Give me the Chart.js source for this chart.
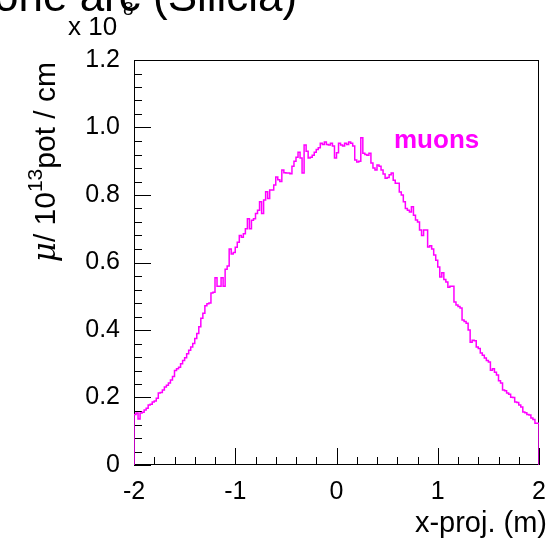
<!DOCTYPE html>
<html><head><meta charset="utf-8">
<script src="https://cdn.jsdelivr.net/npm/chart.js@4.4.0/dist/chart.umd.min.js"></script>
<style>html,body{margin:0;padding:0;background:#fff;overflow:hidden}#wrap{width:559px;height:542px;position:relative}</style>
</head><body><div id="wrap"><canvas id="c" width="559" height="542"></canvas></div>
<script>
// histogram range (m) and bin contents (units of 1e8 muons / 1e13 pot / cm)
const xMin = -2, xMax = 2;
const muonCounts = [
0.127,0.15,0.154,0.136,0.154,0.156,0.163,0.168,0.178,0.18,
0.187,0.19,0.198,0.213,0.215,0.222,0.231,0.236,0.243,0.252,
0.262,0.28,0.285,0.29,0.30,0.31,0.318,0.33,0.34,0.35,
0.36,0.375,0.39,0.41,0.435,0.45,0.472,0.478,0.48,0.51,
0.512,0.555,0.53,0.53,0.555,0.53,0.58,0.59,0.64,0.625,
0.63,0.645,0.66,0.68,0.675,0.685,0.70,0.73,0.70,0.725,
0.73,0.745,0.755,0.78,0.745,0.785,0.81,0.79,0.815,0.815,
0.83,0.853,0.845,0.84,0.874,0.866,0.865,0.865,0.863,0.885,
0.90,0.912,0.927,0.91,0.865,0.948,0.93,0.91,0.912,0.918,
0.927,0.935,0.94,0.953,0.95,0.957,0.95,0.948,0.953,0.945,
0.91,0.925,0.953,0.948,0.945,0.953,0.95,0.957,0.953,0.945,
0.904,0.898,0.9,0.97,0.924,0.92,0.918,0.924,0.895,0.88,
0.874,0.889,0.885,0.874,0.862,0.85,0.852,0.86,0.865,0.844,
0.835,0.835,0.809,0.80,0.78,0.76,0.755,0.75,0.765,0.74,
0.726,0.72,0.696,0.68,0.696,0.696,0.646,0.65,0.64,0.622,
0.607,0.587,0.557,0.57,0.55,0.542,0.527,0.53,0.53,0.483,
0.474,0.47,0.465,0.43,0.425,0.42,0.40,0.364,0.37,0.368,
0.35,0.345,0.332,0.325,0.317,0.31,0.305,0.281,0.285,0.275,
0.267,0.25,0.243,0.222,0.22,0.213,0.21,0.201,0.20,0.187,
0.185,0.178,0.172,0.157,0.155,0.15,0.148,0.139,0.135,0.124
];
const xTicks = [-2, -1, 0, 1, 2];
const yTicks = [0, 0.2, 0.4, 0.6, 0.8, 1.0, 1.2];
const xMinorStep = 0.2, yMinorStep = 0.04;
const seriesLabel = 'muons';
const titleText = 'one arc (Silicia)';
const xTitle = 'x-proj. (m)';

const FONT = '"Liberation Sans", Arial, Helvetica, sans-serif';
const MAG = '#ff00ff';

// build step outline from bin edges
const bw = (xMax - xMin) / muonCounts.length;
const pts = [{x: xMin, y: 0}];
muonCounts.forEach((v, i) => pts.push({x: xMin + i * bw, y: v}));
pts.push({x: xMax, y: muonCounts[muonCounts.length - 1]});
pts.push({x: xMax, y: 0});

const rootPlugin = {
  id: 'rootStyle',
  beforeDatasetsDraw(chart) {
    const ctx = chart.ctx, a = chart.chartArea;
    const xs = chart.scales.x, ys = chart.scales.y;
    ctx.save();
    ctx.strokeStyle = '#000';
    ctx.lineWidth = 1;
    ctx.strokeRect(Math.round(a.left) + 0.5, Math.round(a.top) + 0.5,
                   Math.round(a.right - a.left) - 1, Math.round(a.bottom - a.top) - 1);
    ctx.beginPath();
    for (let k = 0; ; k++) {
      const v = xMin + k * xMinorStep;
      if (v > xMax + 1e-9) break;
      const major = xTicks.some(t => Math.abs(t - v) < 1e-9);
      const px = Math.round(xs.getPixelForValue(v)) + 0.5;
      const len = major ? 17 : 8;
      ctx.moveTo(px, a.bottom); ctx.lineTo(px, a.bottom - len);
    }
    for (let k = 0; ; k++) {
      const v = k * yMinorStep;
      if (v > 1.2 + 1e-9) break;
      const major = yTicks.some(t => Math.abs(t - v) < 1e-9);
      const py = Math.round(ys.getPixelForValue(v)) + 0.5;
      const len = major ? 17 : 8;
      ctx.moveTo(a.left, py); ctx.lineTo(a.left + len, py);
    }
    ctx.stroke();
    ctx.restore();
  },
  afterDraw(chart) {
    const ctx = chart.ctx, a = chart.chartArea;
    ctx.save();
    ctx.fillStyle = '#000';
    // clipped title at the very top
    ctx.font = '44px ' + FONT;
    ctx.textAlign = 'left'; ctx.textBaseline = 'alphabetic';
    ctx.fillText(titleText, -6, 11);
    // exponent label
    ctx.font = '26px ' + FONT;
    ctx.fillText('x 10', 68, 35);
    ctx.font = '19px ' + FONT;
    ctx.fillText('8', 123, 15);
    // x title
    ctx.font = '29px ' + FONT;
    ctx.textAlign = 'right';
    ctx.fillText(xTitle, 547, 532);
    // series label
    ctx.fillStyle = MAG;
    ctx.font = 'bold 26px ' + FONT;
    ctx.textAlign = 'left';
    ctx.fillText(seriesLabel, 394, 148);
    // y title rotated
    ctx.fillStyle = '#000';
    const parts = [
      {t: 'μ', f: 'italic 31px "DejaVu Serif", serif', dy: 0},
      {t: '/ 10', f: '30px ' + FONT, dy: 0},
      {t: '13', f: '21px ' + FONT, dy: -13},
      {t: 'pot / cm', f: '30px ' + FONT, dy: 0}
    ];
    let total = 0;
    parts.forEach(p => { ctx.font = p.f; p.w = ctx.measureText(p.t).width; total += p.w; });
    ctx.translate(55, a.top + 2 + total);
    ctx.rotate(-Math.PI / 2);
    ctx.textAlign = 'left';
    let cx = 0;
    parts.forEach(p => { ctx.font = p.f; ctx.fillText(p.t, cx, p.dy); cx += p.w; });
    ctx.restore();
  }
};

new Chart(document.getElementById('c'), {
  type: 'line',
  data: {
    datasets: [{
      label: seriesLabel,
      data: pts,
      stepped: 'after',
      borderColor: MAG,
      borderWidth: 1.5,
      pointRadius: 0,
      fill: false,
      tension: 0
    }]
  },
  options: {
    responsive: false,
    animation: false,
    devicePixelRatio: 1,
    layout: {padding: {top: 60, right: 20, left: 0, bottom: 0}},
    plugins: {legend: {display: false}, tooltip: {enabled: false}, title: {display: false}},
    scales: {
      x: {
        type: 'linear', min: xMin, max: xMax,
        afterBuildTicks: s => { s.ticks = xTicks.map(v => ({value: v})); },
        afterFit: s => { s.height = 77; },
        grid: {display: false, drawTicks: false},
        border: {display: false},
        ticks: {
          color: '#000', padding: 12, maxRotation: 0, autoSkip: false,
          font: {family: FONT, size: 25},
          callback: v => String(v)
        }
      },
      y: {
        type: 'linear', min: 0, max: 1.2,
        afterBuildTicks: s => { s.ticks = yTicks.map(v => ({value: v})); },
        afterFit: s => { s.width = 134; },
        grid: {display: false, drawTicks: false},
        border: {display: false},
        ticks: {
          color: '#000', padding: 14, autoSkip: false,
          font: {family: FONT, size: 25},
          callback: v => v === 0 ? '0' : v.toFixed(1)
        }
      }
    }
  },
  plugins: [rootPlugin]
});
</script>
</body></html>
